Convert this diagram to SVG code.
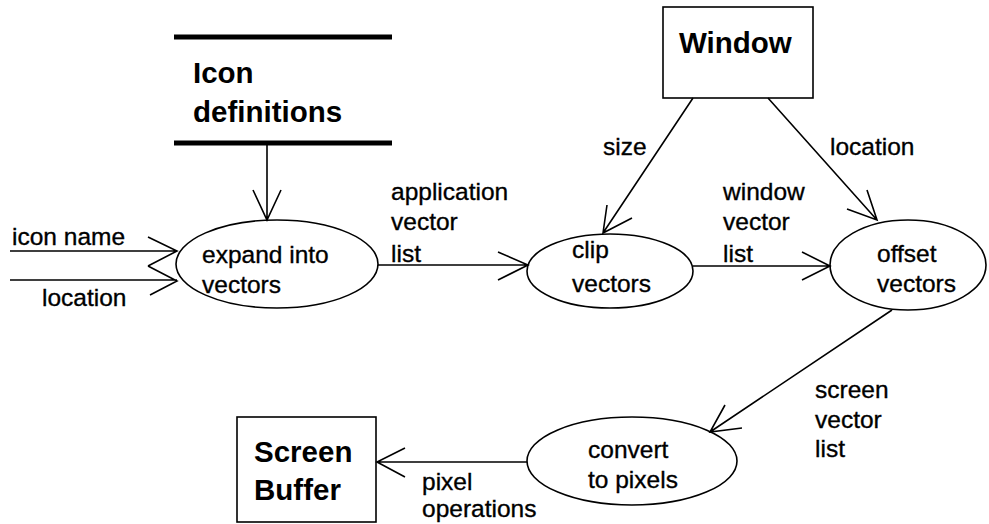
<svg xmlns="http://www.w3.org/2000/svg" width="989" height="524" viewBox="0 0 989 524">
<style>
.t{font-family:"Liberation Sans",Arial,sans-serif;font-size:24.5px;fill:#000;stroke:#000;stroke-width:0.35}
.b{font-family:"Liberation Sans",Arial,sans-serif;font-size:29.5px;font-weight:bold;fill:#000}
.s{fill:none;stroke:#000;stroke-width:1.6}
.bar{stroke:#000;stroke-width:5}
</style>
<rect width="989" height="524" fill="#fff"/>
<g id="icon-definitions">
<line class="bar" x1="174" y1="37" x2="392" y2="37"/>
<line class="bar" x1="174" y1="143" x2="392" y2="143"/>
<text class="b" x="193" y="83">Icon</text>
<text class="b" x="193" y="122">definitions</text>
</g>
<g id="window">
<rect class="s" x="663" y="7" width="150" height="91"/>
<text class="b" x="679" y="53">Window</text>
</g>
<g id="screen-buffer">
<rect class="s" x="237" y="417" width="139" height="105"/>
<text class="b" x="254" y="462">Screen</text>
<text class="b" x="254" y="500">Buffer</text>
</g>
<g id="expand">
<ellipse class="s" cx="277" cy="264" rx="101" ry="44"/>
<text class="t" x="202" y="263">expand into</text>
<text class="t" x="202" y="293">vectors</text>
</g>
<g id="clip">
<ellipse class="s" cx="610" cy="271" rx="83" ry="37"/>
<text class="t" x="572" y="258">clip</text>
<text class="t" x="572" y="292">vectors</text>
</g>
<g id="offset">
<ellipse class="s" cx="908" cy="265" rx="78" ry="45"/>
<text class="t" x="877" y="262">offset</text>
<text class="t" x="877" y="292">vectors</text>
</g>
<g id="convert">
<ellipse class="s" cx="632" cy="461" rx="105" ry="44"/>
<text class="t" x="588" y="458">convert</text>
<text class="t" x="588" y="488">to pixels</text>
</g>
<g id="connectors">
<path class="s" d="M10 251H177M148 237L177 251L148 266"/>
<path class="s" d="M10 280H177M148 266L177 281L150 295"/>
<path class="s" d="M267 143V220M253 190L267 220L281 190"/>
<path class="s" d="M378 265H528M498 252L528 265L498 280"/>
<path class="s" d="M693 98L603 233M607 205L603 233L632 218"/>
<path class="s" d="M768 98L877 220M867 190L877 220L847 209"/>
<path class="s" d="M693 266H830M802 252L830 266L802 280"/>
<path class="s" d="M892 310L710 432M725 405L710 432L742 428"/>
<path class="s" d="M527 462H377M405 448L377 462L405 477"/>
</g>
<g id="labels">
<text class="t" x="12" y="245">icon name</text>
<text class="t" x="42" y="306">location</text>
<text class="t" x="391" y="200">application</text>
<text class="t" x="391" y="230">vector</text>
<text class="t" x="391" y="262">list</text>
<text class="t" x="603" y="155">size</text>
<text class="t" x="830" y="155">location</text>
<text class="t" x="723" y="200">window</text>
<text class="t" x="723" y="230">vector</text>
<text class="t" x="723" y="262">list</text>
<text class="t" x="815" y="398">screen</text>
<text class="t" x="815" y="428">vector</text>
<text class="t" x="815" y="457">list</text>
<text class="t" x="422" y="490">pixel</text>
<text class="t" x="422" y="517">operations</text>
</g>
</svg>
